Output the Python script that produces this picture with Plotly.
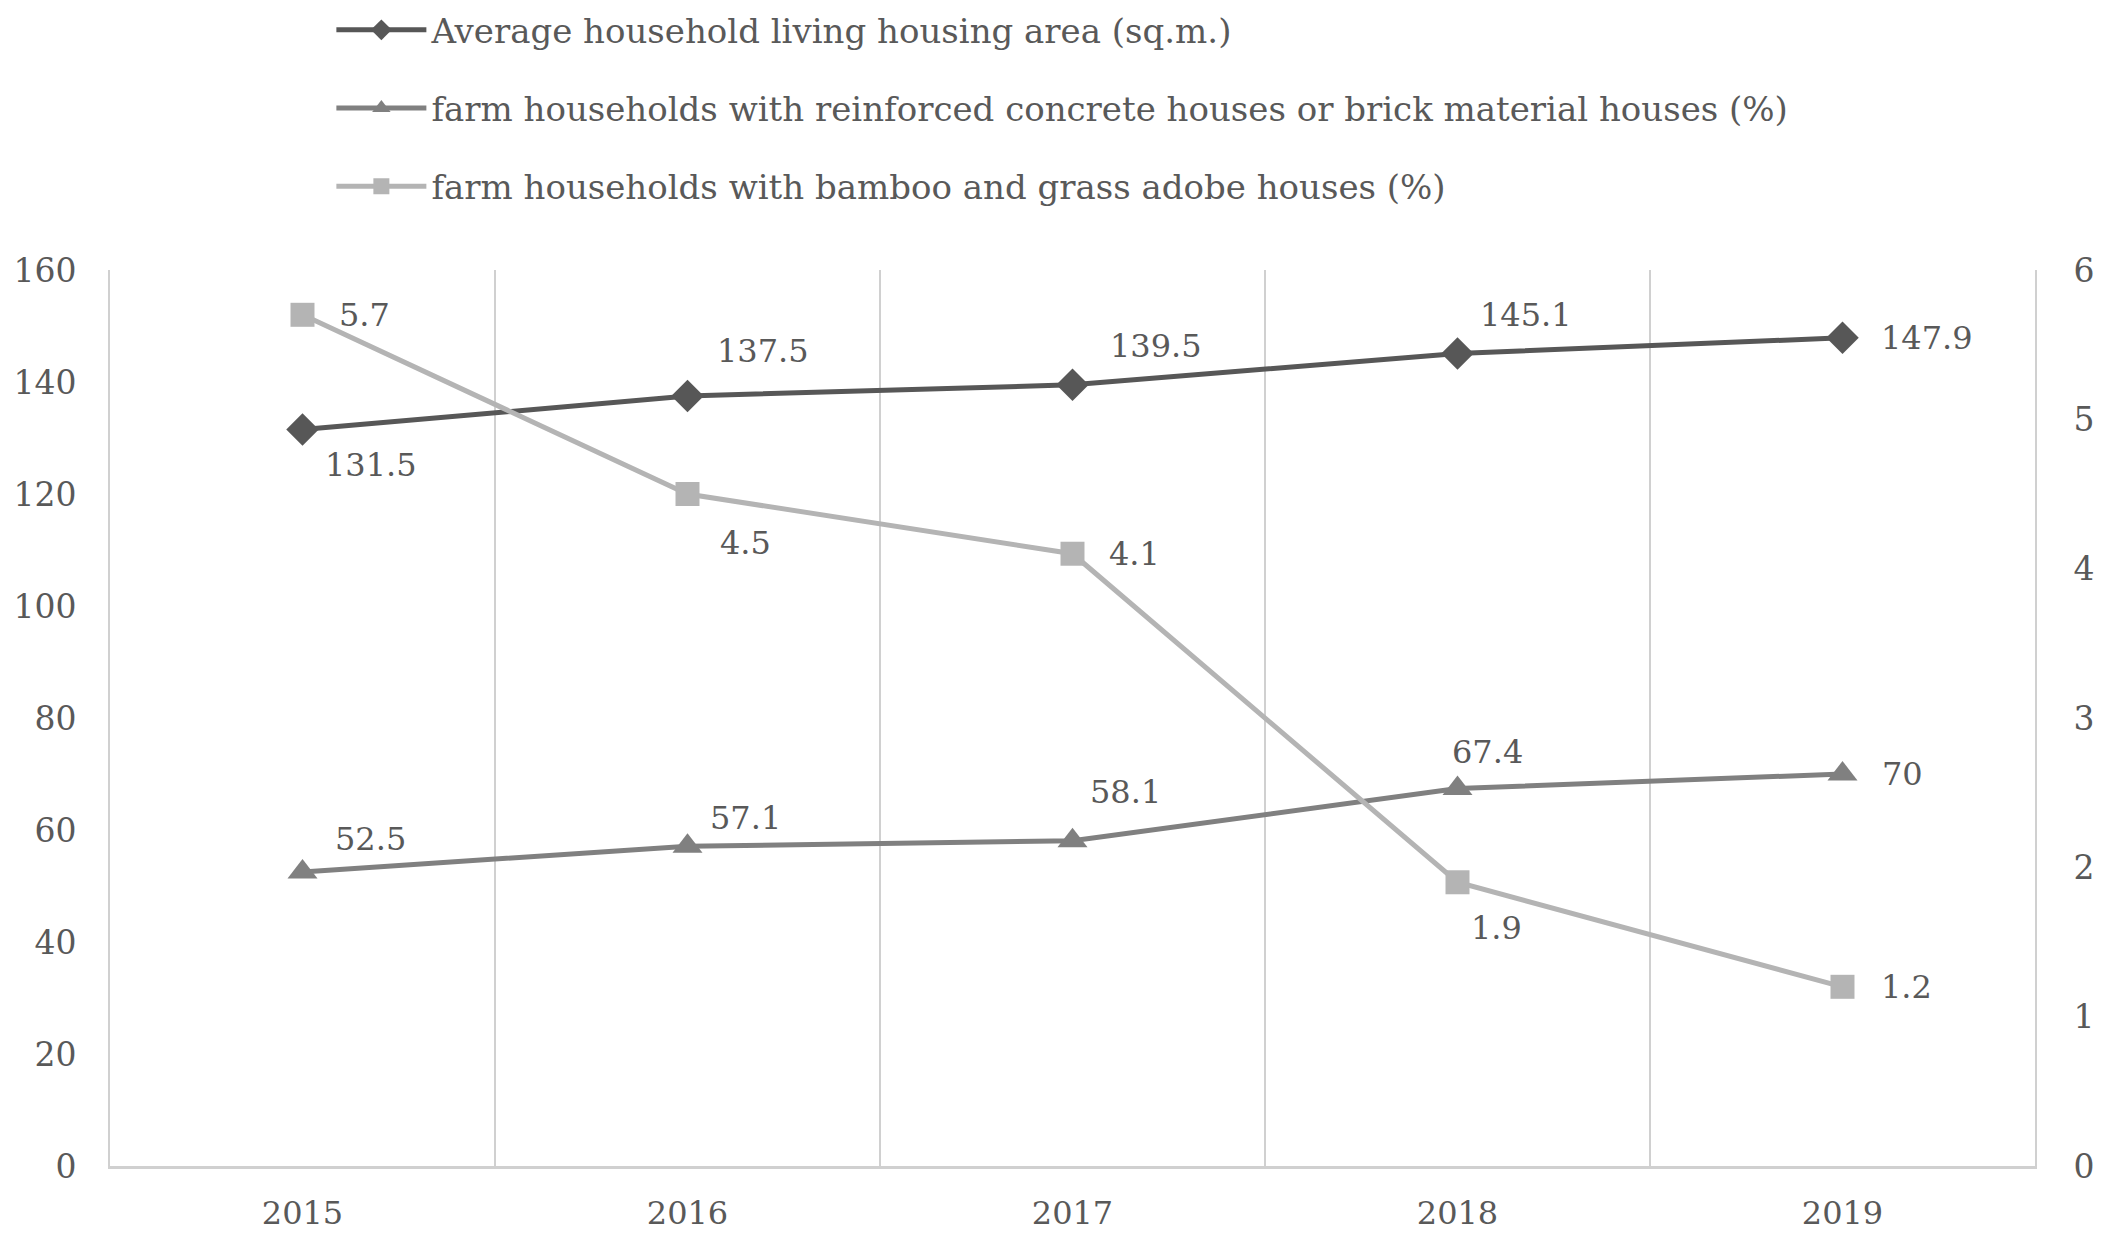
import plotly.graph_objects as go

years = ["2015", "2016", "2017", "2018", "2019"]
area = [131.5, 137.5, 139.5, 145.1, 147.9]
concrete = [52.5, 57.1, 58.1, 67.4, 70]
bamboo = [5.7, 4.5, 4.1, 1.9, 1.2]

name_area = "Average household living housing area (sq.m.)"
name_concrete = "farm households with reinforced concrete houses or brick material houses (%)"
name_bamboo = "farm households with bamboo and grass adobe houses (%)"

c_area = "#575757"
c_concrete = "#808080"
c_bamboo = "#b4b4b4"
txt = "#595959"
serif = "DejaVu Serif"

# label offsets (px) for data labels
off_area = [(68, -35), (75, 45), (83, 39), (68, 38), (84, 0)]
off_concrete = [(68, 33), (58, 28), (53, 49), (30, 37), (60, 0)]
off_bamboo = [(62, 0), (58, -49), (62, 0), (39, -46), (64, 0)]

fig = go.Figure()
fig.add_trace(go.Scatter(x=years, y=area, name=name_area, mode="lines+markers",
                         line=dict(color=c_area, width=5),
                         marker=dict(symbol="diamond", size=25, color=c_area),
                         legendgroup="a"))
fig.add_trace(go.Scatter(x=years, y=concrete, name=name_concrete, mode="lines+markers",
                         line=dict(color=c_concrete, width=5),
                         marker=dict(symbol="triangle-up", size=26, color=c_concrete),
                         legendgroup="b"))
fig.add_trace(go.Scatter(x=years, y=bamboo, name=name_bamboo, mode="lines+markers",
                         line=dict(color=c_bamboo, width=5),
                         marker=dict(symbol="square", size=24, color=c_bamboo),
                         yaxis="y2", legendgroup="c"))

annots = []
for vals, offs, yref in ((area, off_area, "y"), (concrete, off_concrete, "y"), (bamboo, off_bamboo, "y2")):
    for i, (v, (dx, dy)) in enumerate(zip(vals, offs)):
        annots.append(dict(x=i, y=v, xref="x", yref=yref, text=f"{v:g}", showarrow=False,
                           xshift=dx, yshift=dy, font=dict(family=serif, size=32, color=txt)))

fig.update_layout(
    width=2098, height=1228,
    margin=dict(l=102, r=71, t=262, b=70, autoexpand=False),
    paper_bgcolor="white", plot_bgcolor="white",
    font=dict(family=serif, color=txt, size=32),
    annotations=annots,
    legend=dict(x=0.115, xanchor="left", y=1.30, yref="paper", yanchor="top",
                font=dict(family=serif, size=34, color=txt), tracegroupgap=31,
                itemwidth=90, bgcolor="rgba(0,0,0,0)"),
    xaxis=dict(type="category", tickson="boundaries", showgrid=True, gridcolor="#d0d0d0",
               gridwidth=2, showline=True, linecolor="#d0d0d0", linewidth=3,
               ticks="", tickfont=dict(size=32, family=serif, color=txt), ticklabelstandoff=17,
               range=[-0.5, 4.5], automargin=False),
    yaxis=dict(range=[0, 160], dtick=20, showgrid=False, zeroline=False, showline=True,
               linecolor="#d0d0d0", linewidth=2,
               ticks="", tickfont=dict(size=33, family=serif, color=txt), ticklabelstandoff=25,
               automargin=False),
    yaxis2=dict(range=[0, 6], dtick=1, overlaying="y", side="right", showgrid=False,
                zeroline=False, showline=True, linecolor="#d0d0d0", linewidth=2, ticks="",
                tickfont=dict(size=33, family=serif, color=txt), ticklabelstandoff=30,
                automargin=False),
)

fig.write_html("out.html")
